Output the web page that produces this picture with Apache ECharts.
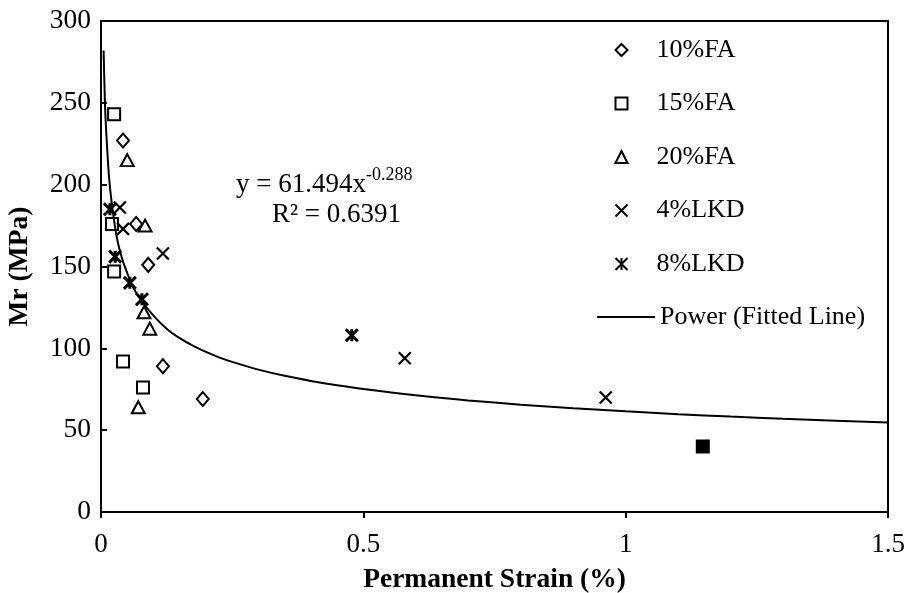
<!DOCTYPE html>
<html>
<head>
<meta charset="utf-8">
<script src="https://cdn.jsdelivr.net/npm/echarts@6/dist/echarts.min.js"></script>
<style>html,body{margin:0;padding:0;background:#fff}#c{width:906px;height:593px}</style>
</head>
<body>
<div id="c"></div>
<script>
// Data: [Permanent Strain (%), Mr (MPa)]
var fa10 = [[0.042, 227], [0.067, 176], [0.090, 151], [0.118, 89], [0.194, 69]];
var fa15 = [[0.025, 243], [0.021, 176], [0.025, 147], [0.042, 92], [0.080, 76]];
var fa15Filled = [[1.147, 40]];
var fa20 = [[0.050, 215], [0.084, 175], [0.082, 122], [0.093, 112], [0.071, 64]];
var lkd4 = [[0.036, 186], [0.042, 173], [0.118, 158], [0.579, 94], [0.962, 70]];
var lkd8 = [[0.017, 185], [0.027, 156], [0.055, 140], [0.078, 130], [0.478, 108]];
var fittedLine = [[0.005, 282], [0.0075, 250], [0.01, 232], [0.015, 206], [0.02, 190], [0.03, 168],
  [0.04, 155], [0.05, 146], [0.06, 138], [0.075, 130], [0.1, 120], [0.125, 112], [0.15, 106.2],
  [0.175, 101.6], [0.2, 97.8], [0.225, 94.5], [0.25, 91.7], [0.3, 87], [0.35, 83.2], [0.4, 80.1],
  [0.45, 77.4], [0.5, 75.1], [0.6, 71.3], [0.7, 68.2], [0.8, 65.6], [0.9, 63.4], [1.0, 61.5],
  [1.1, 59.8], [1.2, 58.3], [1.3, 57], [1.4, 55.8], [1.5, 54.7]];
var xTicks = ['0', '0.5', '1', '1.5'];
var seriesNames = ['10%FA', '15%FA', '20%FA', '4%LKD', '8%LKD'];
var lineName = 'Power (Fitted Line)';

var FONT = '"Liberation Serif", "Times New Roman", serif';
var crossPath = 'path://M0,0L10,10M10,0L0,10';
var starPath = 'path://M0,0L10,10M10,0L0,10M5,0L5,10';
var hollow = {color: 'rgba(0,0,0,0)', borderColor: '#000', borderWidth: 2, opacity: 1};
var stroke = {color: 'none', borderColor: '#000', borderWidth: 2.2, opacity: 1};

var chart = echarts.init(document.getElementById('c'), null, {renderer: 'canvas'});
chart.setOption({
  animation: false,
  backgroundColor: '#fff',
  textStyle: {fontFamily: FONT},
  grid: {left: 101, right: 18, top: 21, bottom: 81, containLabel: false, outerBoundsMode: 'none',
    show: true, borderColor: '#000', borderWidth: 2, backgroundColor: 'transparent'},
  legend: [{
    data: seriesNames,
    orient: 'vertical',
    left: 608, top: 32,
    itemWidth: 12, itemHeight: 12,
    itemGap: 27.5,
    textStyle: {fontFamily: FONT, fontSize: 26, color: '#000', lineHeight: 26, padding: [0, 0, 0, 24]}
  }, {
    data: [lineName],
    orient: 'vertical',
    left: 591, top: 299,
    itemWidth: 58, itemHeight: 12,
    itemStyle: {color: 'rgba(0,0,0,0)', borderWidth: 0},
    textStyle: {fontFamily: FONT, fontSize: 26, color: '#000', lineHeight: 26}
  }],
  xAxis: {
    type: 'value', min: 0, max: 1.5, interval: 0.5,
    name: 'Permanent Strain (%)', nameLocation: 'middle', nameGap: 54,
    nameTextStyle: {fontFamily: FONT, fontSize: 27.5, fontWeight: 'bold', color: '#000'},
    axisLine: {show: true, lineStyle: {color: '#000', width: 2}},
    axisTick: {show: true, inside: false, length: 6, lineStyle: {color: '#000', width: 2}},
    axisLabel: {fontFamily: FONT, fontSize: 27, color: '#000', margin: 19,
      formatter: function (v) { return xTicks[Math.round(v / 0.5)]; }},
    splitLine: {show: false}
  },
  yAxis: {
    type: 'value', min: 0, max: 300, interval: 50,
    name: 'Mr (MPa)', nameLocation: 'middle', nameGap: 67, nameRotate: 90,
    nameTextStyle: {fontFamily: FONT, fontSize: 27.5, fontWeight: 'bold', color: '#000'},
    axisLine: {show: true, lineStyle: {color: '#000', width: 2}},
    axisTick: {show: true, inside: true, length: 6, lineStyle: {color: '#000', width: 2}},
    axisLabel: {fontFamily: FONT, fontSize: 27.5, color: '#000', margin: 10},
    splitLine: {show: false}
  },
  graphic: [{
    type: 'text', left: 236, top: 166, z: 100,
    style: {
      text: '{a|y = 61.494x}{b|-0.288}',
      rich: {
        a: {fontFamily: FONT, fontSize: 27, fill: '#000', verticalAlign: 'bottom', lineHeight: 32},
        b: {fontFamily: FONT, fontSize: 18, fill: '#000', verticalAlign: 'top', lineHeight: 32, padding: [0, 0, 14, 0]}
      }
    }
  }, {
    type: 'text', left: 272, top: 201, z: 100,
    style: {text: 'R² = 0.6391', font: '27px ' + FONT, fill: '#000'}
  }],
  series: [{
    name: lineName, type: 'line', data: fittedLine, smooth: 0.3,
    symbol: 'none', showSymbol: false,
    lineStyle: {color: '#000', width: 2}, itemStyle: {color: '#000'}, z: 1
  }, {
    name: '10%FA', type: 'scatter', data: fa10, symbol: 'diamond', symbolSize: [12, 14], itemStyle: hollow, z: 3
  }, {
    name: '15%FA', type: 'scatter', symbol: 'rect', symbolSize: 12, itemStyle: hollow, z: 3,
    data: fa15.concat(fa15Filled.map(function (p) { return {value: p, itemStyle: {color: '#000'}}; }))
  }, {
    name: '20%FA', type: 'scatter', data: fa20, symbol: 'triangle', symbolSize: [13, 12], itemStyle: hollow, z: 3
  }, {
    name: '4%LKD', type: 'scatter', data: lkd4, symbol: crossPath, symbolSize: 12, itemStyle: stroke, z: 3
  }, {
    name: '8%LKD', type: 'scatter', data: lkd8, symbol: starPath, symbolSize: 12, itemStyle: {color: 'none', borderColor: '#000', borderWidth: 3, opacity: 1}, z: 3
  }]
});
</script>
</body>
</html>
